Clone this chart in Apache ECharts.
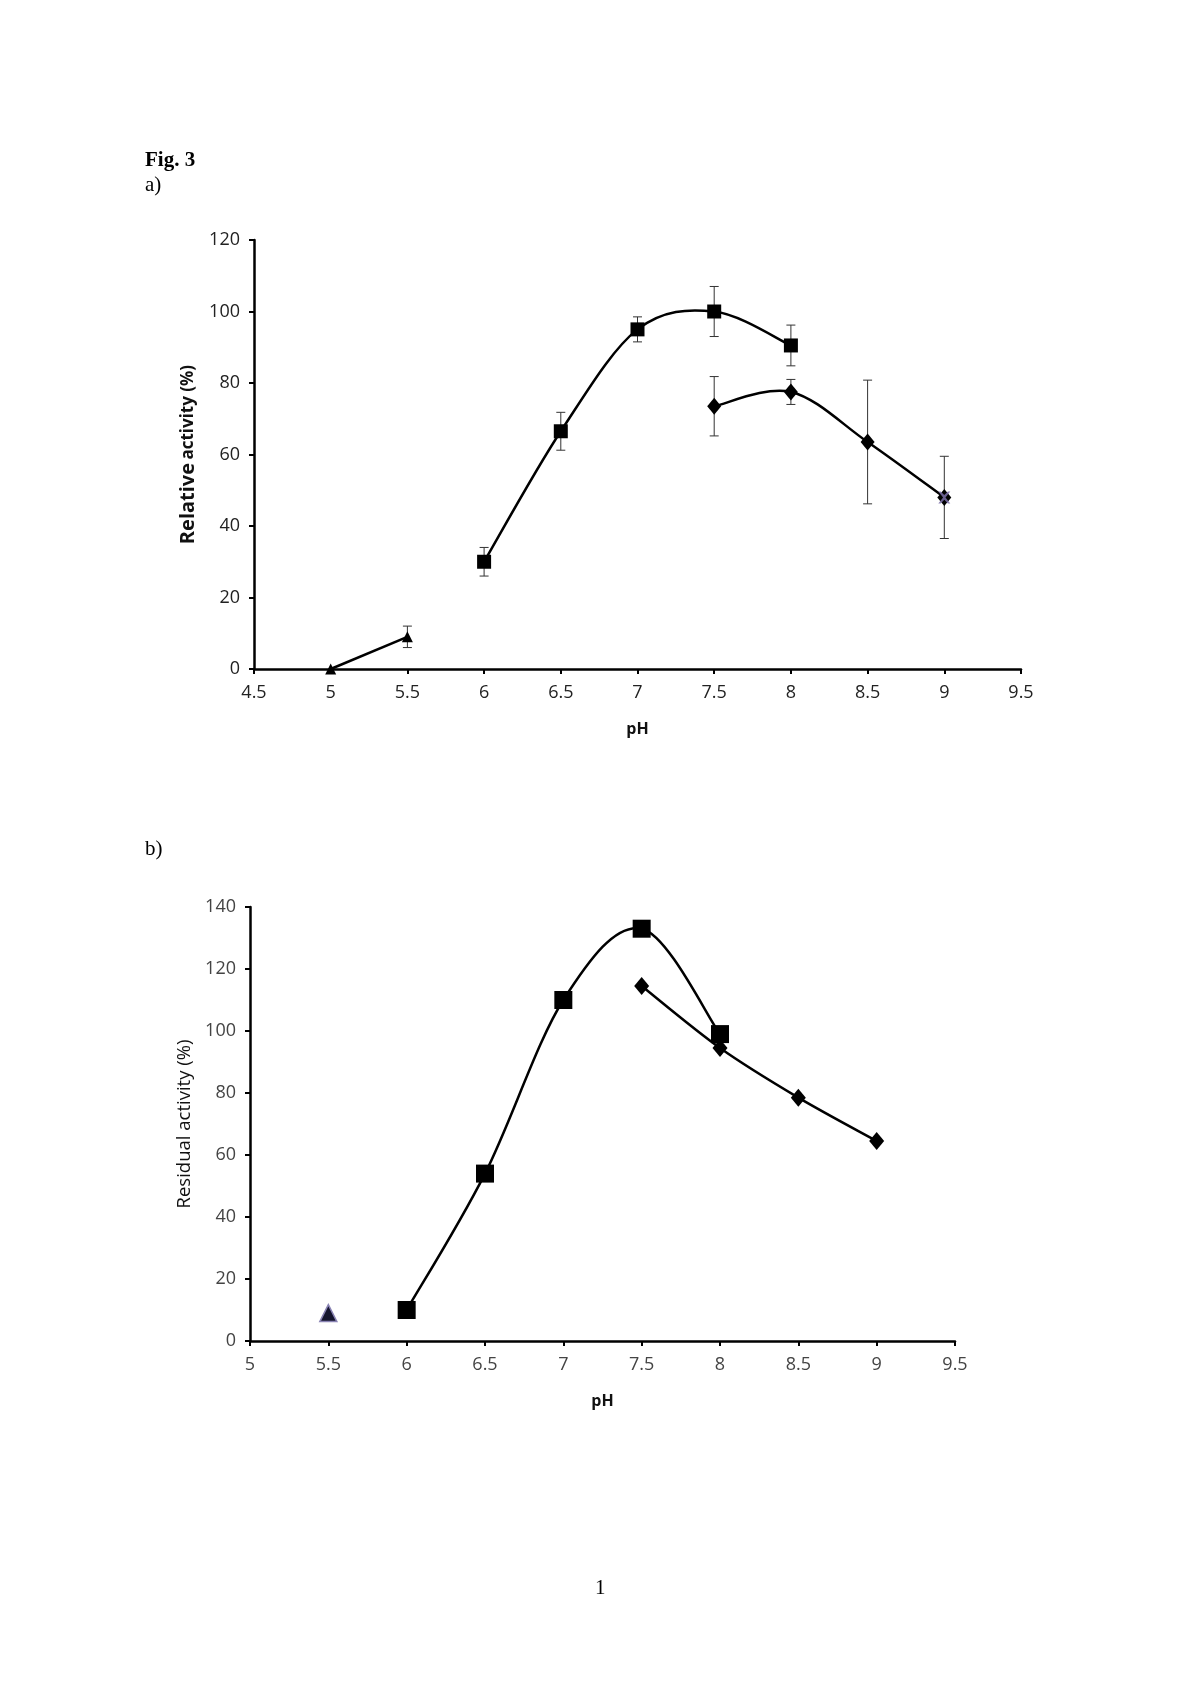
<!DOCTYPE html>
<html>
<head>
<meta charset="utf-8">
<script src="https://cdn.jsdelivr.net/npm/echarts@6/dist/echarts.min.js"></script>
<style>
  html, body { margin: 0; padding: 0; background: #fff; }
  #main { width: 1200px; height: 1698px; }
</style>
</head>
<body>
<div id="main"></div>
<script>
// a) relative activity vs pH
const aSquares = [[6, 30], [6.5, 66.5], [7, 95], [7.5, 100], [8, 90.5]]
const aSquaresErr = [4, 5.3, 3.5, 7, 5.7]
const aDiamonds = [[7.5, 73.5], [8, 77.5], [8.5, 63.5], [9, 48]]
const aDiamondsErr = [8.3, 3.5, 17.3, 11.5]
const aTriangles = [[5, 0], [5.5, 9]]
const aTrianglesErr = [0, 3]

// b) residual activity vs pH
const bSquares = [[6, 10], [6.5, 54], [7, 110], [7.5, 133], [8, 99]]
const bDiamonds = [[7.5, 114.5], [8, 94.5], [8.5, 78.5], [9, 64.5]]
const bTriangles = [[5.5, 9]]

const tickFont = '"Open Sans", sans-serif'

// [x, low, high] for the error bar series
function errData(points, errs) {
  return points.map((p, i) => [p[0], p[1] - errs[i], p[1] + errs[i]])
    .filter(d => d[2] > d[1])
}

function renderErr(params, api) {
  const top = api.coord([api.value(0), api.value(2)])
  const bot = api.coord([api.value(0), api.value(1)])
  const w = 4.5
  const style = { stroke: '#333', lineWidth: 1 }
  return {
    type: 'group',
    children: [
      { type: 'line', shape: { x1: top[0], y1: top[1], x2: bot[0], y2: bot[1] }, style: style },
      { type: 'line', shape: { x1: top[0] - w, y1: top[1], x2: top[0] + w, y2: top[1] }, style: style },
      { type: 'line', shape: { x1: bot[0] - w, y1: bot[1], x2: bot[0] + w, y2: bot[1] }, style: style }
    ]
  }
}

// excel-like smoothed line: catmull-rom segment from point i to i+1
function smoothLine(points) {
  return function(params, api) {
    const i = params.dataIndex
    if (i >= points.length - 1) return null
    const c = k => api.coord(points[Math.max(0, Math.min(points.length - 1, k))])
    const p0 = c(i - 1), p1 = c(i), p2 = c(i + 1), p3 = c(i + 2)
    return {
      type: 'bezierCurve',
      shape: {
        x1: p1[0], y1: p1[1], x2: p2[0], y2: p2[1],
        cpx1: p1[0] + (p2[0] - p0[0]) / 6, cpy1: p1[1] + (p2[1] - p0[1]) / 6,
        cpx2: p2[0] - (p3[0] - p1[0]) / 6, cpy2: p2[1] - (p3[1] - p1[1]) / 6
      },
      style: { stroke: '#000', lineWidth: 2.5, fill: null }
    }
  }
}

function xAxisOf(idx, min, labelColor) {
  return {
    gridIndex: idx,
    type: 'value',
    min: min,
    max: 9.5,
    interval: 0.5,
    name: 'pH',
    nameLocation: 'middle',
    nameGap: 52,
    nameTextStyle: { fontFamily: tickFont, fontWeight: 'bold', fontSize: 16, color: '#111' },
    splitLine: { show: false },
    axisLine: { onZero: false, lineStyle: { color: '#000', width: 2.5 } },
    axisTick: { length: 5, lineStyle: { color: '#000', width: 2 } },
    axisLabel: { fontFamily: tickFont, fontSize: 18, color: labelColor, margin: 15 }
  }
}

function yAxisOf(idx, max, name, nameStyle, nameGap, labelColor) {
  return {
    gridIndex: idx,
    type: 'value',
    min: 0,
    max: max,
    interval: 20,
    name: name,
    nameLocation: 'middle',
    nameGap: nameGap,
    nameTextStyle: nameStyle,
    splitLine: { show: false },
    axisLine: { lineStyle: { color: '#000', width: 2.5 } },
    axisTick: { length: 5, lineStyle: { color: '#000', width: 2 } },
    axisLabel: { fontFamily: tickFont, fontSize: 18, color: labelColor, margin: 14 }
  }
}

const xMark = 'path://M0,0 L2,0 L5,3 L8,0 L10,0 L6,5 L10,10 L8,10 L5,7 L2,10 L0,10 L4,5 Z'
const solid = { color: '#000', opacity: 1 }

const chart = echarts.init(document.getElementById('main'), null, { renderer: 'canvas' })
chart.setOption({
  backgroundColor: '#fff',
  animation: false,
  graphic: [
    { type: 'text', left: 145, top: 150, style: { text: 'Fig. 3', font: 'bold 21px "Liberation Serif", serif', fill: '#000' } },
    { type: 'text', left: 145, top: 175, style: { text: 'a)', font: '21px "Liberation Serif", serif', fill: '#000' } },
    { type: 'text', left: 145, top: 839, style: { text: 'b)', font: '21px "Liberation Serif", serif', fill: '#000' } },
    { type: 'text', left: 595, top: 1578, style: { text: '1', font: '21px "Liberation Serif", serif', fill: '#000' } }
  ],
  grid: [
    { left: 254, top: 240, width: 767, height: 429 },
    { left: 250, top: 907, width: 705, height: 434 }
  ],
  xAxis: [
    xAxisOf(0, 4.5, '#222'),
    xAxisOf(1, 5, '#444')
  ],
  yAxis: [
    yAxisOf(0, 120, '{b|Relative} {s|activity (%)}',
      { rich: { b: { fontFamily: 'Open Sans, sans-serif', fontWeight: 'bold', fontSize: 20, color: '#111' },
                s: { fontFamily: 'Open Sans, sans-serif', fontWeight: 'bold', fontSize: 17, color: '#111' } } },
      56, '#222'),
    yAxisOf(1, 140, 'Residual activity (%)',
      { fontFamily: 'Open Sans, sans-serif', fontSize: 18.5, color: '#111' }, 56, '#444')
  ],
  series: [
    // a) error bars
    { type: 'custom', xAxisIndex: 0, yAxisIndex: 0, renderItem: renderErr, data: errData(aSquares, aSquaresErr), z: 1 },
    { type: 'custom', xAxisIndex: 0, yAxisIndex: 0, renderItem: renderErr, data: errData(aDiamonds, aDiamondsErr), z: 1 },
    { type: 'custom', xAxisIndex: 0, yAxisIndex: 0, renderItem: renderErr, data: errData(aTriangles, aTrianglesErr), z: 1 },
    // a) curves
    { type: 'custom', xAxisIndex: 0, yAxisIndex: 0, renderItem: smoothLine(aSquares), data: aSquares, z: 2 },
    { type: 'custom', xAxisIndex: 0, yAxisIndex: 0, renderItem: smoothLine(aDiamonds), data: aDiamonds, z: 2 },
    { type: 'line', xAxisIndex: 0, yAxisIndex: 0, data: aTriangles, symbol: 'triangle', symbolSize: 11,
      lineStyle: { color: '#000', width: 2.5 }, itemStyle: solid, z: 3 },
    // a) markers
    { type: 'scatter', xAxisIndex: 0, yAxisIndex: 0, data: aSquares, symbol: 'rect', symbolSize: 14,
      itemStyle: solid, z: 3 },
    { type: 'scatter', xAxisIndex: 0, yAxisIndex: 0, data: aDiamonds, symbol: 'diamond', symbolSize: [14, 17],
      itemStyle: solid, z: 3 },
    { type: 'scatter', xAxisIndex: 0, yAxisIndex: 0, data: [aDiamonds[3]], symbol: xMark, symbolSize: 12,
      itemStyle: { color: '#7a6ea8', opacity: 0.85 }, z: 4 },
    // b) curves
    { type: 'custom', xAxisIndex: 1, yAxisIndex: 1, renderItem: smoothLine(bSquares), data: bSquares, z: 2 },
    { type: 'custom', xAxisIndex: 1, yAxisIndex: 1, renderItem: smoothLine(bDiamonds), data: bDiamonds, z: 2 },
    // b) markers
    { type: 'scatter', xAxisIndex: 1, yAxisIndex: 1, data: bSquares, symbol: 'rect', symbolSize: 18,
      itemStyle: solid, z: 3 },
    { type: 'scatter', xAxisIndex: 1, yAxisIndex: 1, data: bDiamonds, symbol: 'diamond', symbolSize: [15, 18],
      itemStyle: solid, z: 3 },
    { type: 'scatter', xAxisIndex: 1, yAxisIndex: 1, data: bTriangles, symbol: 'triangle', symbolSize: 17,
      itemStyle: { color: '#15152e', borderColor: '#8a84b4', borderWidth: 1.5, opacity: 1 }, z: 3 }
  ]
})
</script>
</body>
</html>
